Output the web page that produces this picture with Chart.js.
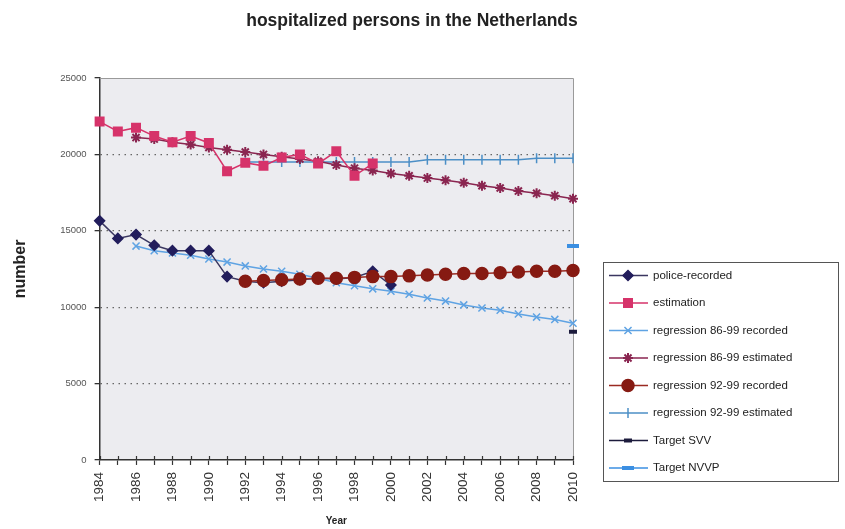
<!DOCTYPE html>
<html>
<head>
<meta charset="utf-8">
<script src="https://cdn.jsdelivr.net/npm/chart.js@4/dist/chart.umd.min.js"></script>
<style>
  body { margin: 0; background: #fff; }
  #wrap { width: 845px; height: 529px; }
</style>
</head>
<body>
<div id="wrap"><canvas id="chart" width="845" height="529"></canvas></div>
<script>
// jaren op de x-as
const years = [];
for (let y = 1984; y <= 2010; y++) years.push(String(y));

const yTicks = [0, 5000, 10000, 15000, 20000, 25000];

// waarden
const policeRecorded = [15650, 14500, 14750, 14050, 13700, 13700, 13700, 12000, 11700, 11600,
  11700, 11800, 11900, 11850, 11950, 12350, 11450,
  null, null, null, null, null, null, null, null, null, null];
const estimation = [22150, 21500, 21750, 21200, 20800, 21200, 20750, 18900, 19450, 19250,
  19800, 20000, 19400, 20200, 18600, 19400,
  null, null, null, null, null, null, null, null, null, null, null];
const reg8699Recorded = [null, null,
  14000, 13700, 13550, 13400, 13150, 12950, 12700, 12500, 12350, 12150,
  11900, 11600, 11400, 11200, 11050, 10850, 10600, 10400, 10150, 9950,
  9800, 9550, 9350, 9200, 8950];
const reg8699Estimated = [null, null,
  21100, 21000, 20800, 20650, 20450, 20300, 20150, 20000, 19850, 19700,
  19550, 19300, 19100, 18950, 18750, 18600, 18450, 18300, 18150, 17950,
  17800, 17600, 17450, 17300, 17100];
const reg9299Recorded = [null, null, null, null, null, null, null, null,
  11700, 11750, 11800, 11850, 11900, 11900, 11950, 12000, 12000, 12050,
  12100, 12150, 12200, 12200, 12250, 12300, 12350, 12350, 12400];
const reg9299Estimated = [null, null, null, null, null, null, null, null,
  19500, 19500, 19500, 19500, 19500, 19500, 19500, 19500, 19500, 19500,
  19650, 19650, 19650, 19650, 19650, 19650, 19750, 19750, 19750];
const targetSVV = [null, null, null, null, null, null, null, null, null, null,
  null, null, null, null, null, null, null, null, null, null,
  null, null, null, null, null, null, 8400];
const targetNVVP = [null, null, null, null, null, null, null, null, null, null,
  null, null, null, null, null, null, null, null, null, null,
  null, null, null, null, null, null, 14000];

const FONT = "'Liberation Sans', Arial, sans-serif";

function serie(label, data, color, style, radius, extra) {
  return Object.assign({
    label: label,
    data: data,
    borderColor: color,
    backgroundColor: color,
    pointBackgroundColor: color,
    pointBorderColor: color,
    borderWidth: 1.5,
    pointStyle: style,
    pointRadius: radius,
    pointHoverRadius: radius,
    pointBorderWidth: 1.5,
    spanGaps: false,
    tension: 0
  }, extra || {});
}

const datasets = [
  serie("police-recorded", policeRecorded, "#221d5c", "rectRot", 5, { borderColor: "#3a3660", order: 2 }),
  serie("estimation", estimation, "#d6336a", "rect", 6, { order: 1 }),
  serie("regression 86-99 recorded", reg8699Recorded, "#5fa3e3", "crossRot", 5, { pointBorderWidth: 1.5, order: 3 }),
  serie("regression 86-99 estimated", reg8699Estimated, "#8a2550", "star", 5, { pointBorderWidth: 2, order: 3 }),
  serie("regression 92-99 recorded", reg9299Recorded, "#861a12", "circle", 6, { borderColor: "#9a2a22", order: 0 }),
  serie("regression 92-99 estimated", reg9299Estimated, "#4c8fc6", "line", 5, { rotation: 90, order: 4 }),
  serie("Target SVV", targetSVV, "#1c1b3c", "line", 4, { pointBorderWidth: 4, order: 0 }),
  serie("Target NVVP", targetNVVP, "#3b8fe2", "line", 6, { pointBorderWidth: 4, order: 0 })
];

// achtergrond, randen, titel en legenda
const decor = {
  id: "decor",
  beforeDatasetsDraw(chart) {
    const { ctx, chartArea: a } = chart;
    ctx.save();
    ctx.strokeStyle = "#9a9a9a";
    ctx.lineWidth = 1;
    ctx.beginPath();
    ctx.moveTo(a.left, a.top + 0.5);
    ctx.lineTo(a.right + 0.5, a.top + 0.5);
    ctx.lineTo(a.right + 0.5, a.bottom);
    ctx.stroke();
    // kleine streepjes boven de x-as
    const xs = chart.scales.x;
    ctx.strokeStyle = "#333";
    ctx.lineWidth = 1.2;
    ctx.beginPath();
    xs.ticks.forEach((t, i) => {
      const px = Math.round(xs.getPixelForTick(i)) + 0.5;
      ctx.moveTo(px, a.bottom);
      ctx.lineTo(px, a.bottom - 4);
    });
    ctx.stroke();
    ctx.restore();
  },
  beforeDraw(chart) {
    const { ctx, chartArea: a } = chart;
    ctx.save();
    ctx.fillStyle = "#ececf0";
    ctx.fillRect(a.left, a.top, a.right - a.left, a.bottom - a.top);
    ctx.restore();
  },
  afterDraw(chart) {
    const ctx = chart.ctx;
    ctx.save();
    ctx.fillStyle = "#222";
    ctx.font = "bold 17.5px " + FONT;
    ctx.textAlign = "center";
    ctx.textBaseline = "middle";
    ctx.fillText("hospitalized persons in the Netherlands", 412, 21.5);

    // legenda
    const bx = 603, by = 262, bw = 235, bh = 219;
    ctx.fillStyle = "#fff";
    ctx.fillRect(bx, by, bw, bh);
    ctx.strokeStyle = "#555";
    ctx.lineWidth = 1;
    ctx.strokeRect(bx + 0.5, by + 0.5, bw, bh);
    ctx.font = "11.5px " + FONT;
    ctx.textAlign = "left";
    chart.data.datasets.forEach((ds, i) => {
      const y = 275.5 + i * 27.5;
      ctx.strokeStyle = ds.borderColor;
      ctx.lineWidth = 1.5;
      ctx.beginPath();
      ctx.moveTo(609, y);
      ctx.lineTo(648, y);
      ctx.stroke();
      ctx.fillStyle = ds.pointBackgroundColor;
      ctx.strokeStyle = ds.pointBorderColor;
      ctx.lineWidth = ds.pointBorderWidth;
      Chart.helpers.drawPoint(ctx, {
        pointStyle: ds.pointStyle,
        radius: ds.pointRadius,
        rotation: ds.rotation || 0,
        borderWidth: ds.pointBorderWidth
      }, 628, y);
      ctx.fillStyle = "#222";
      ctx.fillText(ds.label, 653, y);
    });
    ctx.restore();
  }
};

new Chart(document.getElementById("chart"), {
  type: "line",
  data: { labels: years, datasets: datasets },
  plugins: [decor],
  options: {
    responsive: false,
    animation: false,
    events: [],
    layout: { padding: { left: 11, right: 272, top: 78, bottom: 2 } },
    plugins: {
      legend: { display: false },
      title: { display: false },
      tooltip: { enabled: false }
    },
    scales: {
      x: {
        type: "category",
        offset: false,
        border: { color: "#333", width: 1.5 },
        grid: { drawOnChartArea: false, drawTicks: true, tickLength: 5, tickColor: "#333", tickWidth: 1.2 },
        ticks: {
          autoSkip: false,
          maxRotation: 90,
          minRotation: 90,
          padding: 7,
          color: "#333",
          font: { family: FONT, size: 13.5 },
          callback: function (v) {
            const lab = this.getLabelForValue(v);
            return Number(lab) % 2 === 0 ? lab : "";
          }
        },
        title: { display: true, text: "Year", color: "#222", font: { family: FONT, size: 10, weight: "bold" }, padding: { top: 6, bottom: 0 } }
      },
      y: {
        min: 0,
        max: 25000,
        afterBuildTicks: (s) => { s.ticks = yTicks.map(v => ({ value: v })); },
        border: { color: "#333", width: 1.5, dash: [1.5, 4.5] },
        grid: {
          color: (c) => (c.tick && (c.tick.value === 0 || c.tick.value === 25000)) ? "rgba(0,0,0,0)" : "#666",
          lineWidth: 1.3,
          tickLength: 5,
          tickColor: "#333",
          tickBorderDash: []
        },
        ticks: { color: "#555", font: { family: FONT, size: 9.5 }, padding: 8, callback: (v) => String(v) },
        title: { display: true, text: "number", color: "#222", font: { family: FONT, size: 16, weight: "bold" }, padding: { top: 0, bottom: 22 } }
      }
    }
  }
});
</script>
</body>
</html>
